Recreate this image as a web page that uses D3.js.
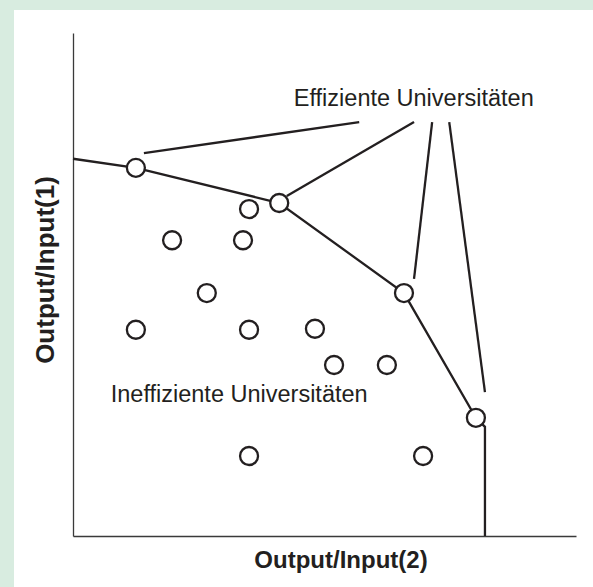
<!DOCTYPE html>
<html>
<head>
<meta charset="utf-8">
<script src="https://cdn.jsdelivr.net/npm/d3@7"></script>
<style>
	html, body { margin: 0; padding: 0; background: #d8ece0; }
	#chart { position: absolute; left: 0; top: 0; }
	text { font-family: "Liberation Sans", Arial, sans-serif; fill: #231f20; }
</style>
</head>
<body>
<div id="chart"></div>
<script>
// efficiency frontier (output/input 2, output/input 1)
const frontierX = [0, 12.5, 41.0, 65.8, 80.1, 81.9, 81.9];
const frontierY = [75.0, 73.2, 66.2, 48.3, 23.5, 21.7, 0];
// which frontier vertices are universities (drawn as circles)
const efficientIdx = [1, 2, 3, 4];

// inefficient universities
const inefX = [35.0, 19.7, 33.8, 26.6, 12.5, 35.0, 48.1, 51.9, 62.4, 35.0, 69.6];
const inefY = [65.0, 58.8, 58.8, 48.3, 41.0, 41.0, 41.2, 34.0, 34.0, 15.9, 15.9];

// leader lines from the "Effiziente" label down to the frontier
const leaderFrom = [[56.9, 82.3], [67.8, 82.3], [71.4, 82.3], [74.8, 82.3]];
const leaderTo = [[14.1, 76.1], [42.5, 67.6], [67.8, 51.1], [81.9, 28.6]];

const labelEff = "Effiziente Universitäten";
const labelIneff = "Ineffiziente Universitäten";
const xTitle = "Output/Input(2)";
const yTitle = "Output/Input(1)";

(function() {
	const width = 593,
		height = 587,
		panel = { left: 14, top: 10 },
		margin = { top: 33, right: 17, bottom: 51, left: 73 },
		ink = "#231f20",
		r = 9;

	const svg = d3.select("#chart").append("svg")
		.attr("width", width)
		.attr("height", height)
		.style("display", "block");

	svg.append("rect")
		.attr("x", panel.left)
		.attr("y", panel.top)
		.attr("width", width - panel.left)
		.attr("height", height - panel.top)
		.attr("fill", "#fff");

	const x = d3.scaleLinear().domain([0, 100]).range([margin.left, width - margin.right]);
	const y = d3.scaleLinear().domain([0, 100]).range([height - margin.bottom, margin.top]);

	// axes: plain lines, no ticks
	svg.append("g")
		.attr("transform", `translate(0,${y(0)})`)
		.call(d3.axisBottom(x).ticks(0).tickSizeOuter(0))
		.select(".domain").attr("stroke", "#3a3a3a").attr("stroke-width", 1.3);
	svg.append("g")
		.attr("transform", `translate(${x(0)},0)`)
		.call(d3.axisLeft(y).ticks(0).tickSizeOuter(0))
		.select(".domain").attr("stroke", "#3a3a3a").attr("stroke-width", 1.3);

	const frontier = frontierX.map((d, i) => [d, frontierY[i]]);
	const line = d3.line().x(d => x(d[0])).y(d => y(d[1]));

	svg.append("path")
		.datum(frontier)
		.attr("d", line)
		.attr("fill", "none")
		.attr("stroke", ink)
		.attr("stroke-width", 2.3);

	svg.append("g").selectAll("line")
		.data(leaderFrom.map((d, i) => [d, leaderTo[i]]))
		.join("line")
		.attr("x1", d => x(d[0][0]))
		.attr("y1", d => y(d[0][1]))
		.attr("x2", d => x(d[1][0]))
		.attr("y2", d => y(d[1][1]))
		.attr("stroke", ink)
		.attr("stroke-width", 2.3);

	const pts = efficientIdx.map(i => frontier[i])
		.concat(inefX.map((d, i) => [d, inefY[i]]));

	svg.append("g").selectAll("circle")
		.data(pts)
		.join("circle")
		.attr("cx", d => x(d[0]))
		.attr("cy", d => y(d[1]))
		.attr("r", r)
		.attr("fill", "#fff")
		.attr("stroke", ink)
		.attr("stroke-width", 2.3);

	svg.append("text")
		.attr("x", x(43.9))
		.attr("y", y(85.5))
		.style("font-size", "23.5px")
		.text(labelEff);
	svg.append("text")
		.attr("x", x(7.5))
		.attr("y", y(26.6))
		.style("font-size", "23.5px")
		.text(labelIneff);

	svg.append("text")
		.attr("x", 341)
		.attr("y", 568)
		.attr("text-anchor", "middle")
		.style("font-size", "24px")
		.style("font-weight", "bold")
		.text(xTitle);
	svg.append("text")
		.attr("transform", "translate(54,270) rotate(-90)")
		.attr("text-anchor", "middle")
		.style("font-size", "26px")
		.style("font-weight", "bold")
		.text(yTitle);
})();
</script>
</body>
</html>
